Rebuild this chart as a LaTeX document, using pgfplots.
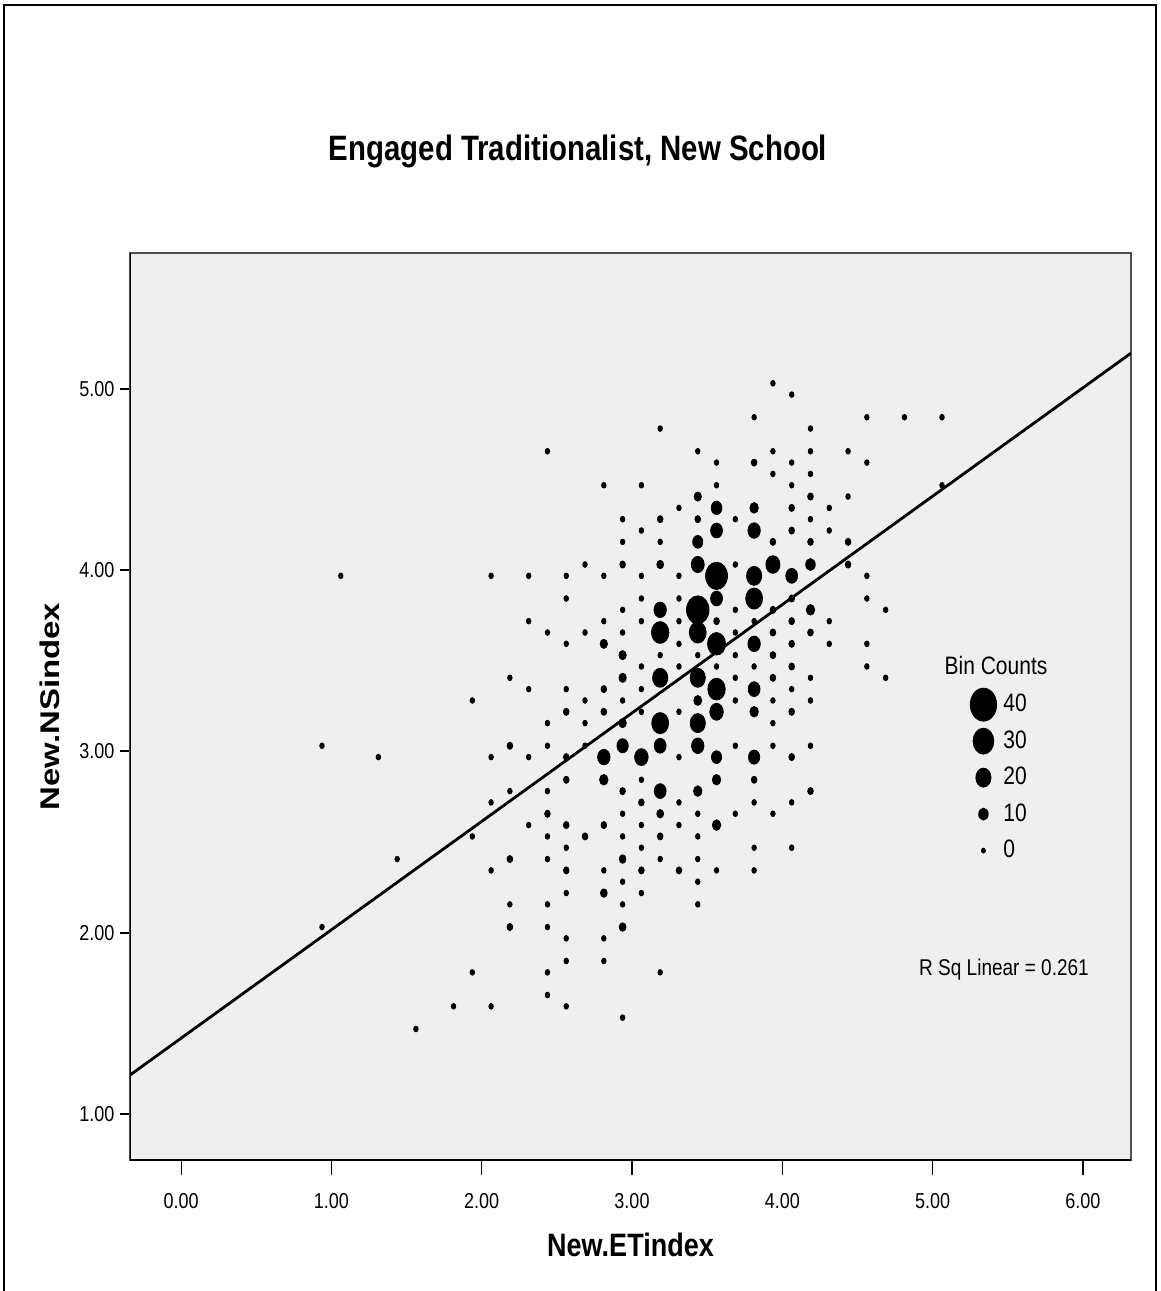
\documentclass[border=0pt]{standalone}
\usepackage{pgfplots}
\usepackage{pgfplotstable}
\pgfplotsset{compat=1.18}
\usepackage{fontspec}
\setmainfont{Liberation Sans}

\definecolor{panel}{RGB}{239,239,239}
\definecolor{boxgray}{RGB}{80,80,80}

% hexagonal bins: centre x, centre y, count
\pgfplotstableread{
x y n
3.9375 5.03125 1
4.0625 4.96875 1
3.8125 4.84375 1
4.5625 4.84375 1
4.8125 4.84375 1
5.0625 4.84375 1
3.1875 4.78125 1
4.1875 4.78125 1
2.4375 4.65625 1
3.4375 4.65625 1
3.9375 4.65625 1
4.1875 4.65625 1
4.4375 4.65625 1
3.5625 4.59375 1
3.8125 4.59375 3
4.0625 4.59375 1
4.5625 4.59375 1
3.9375 4.53125 1
4.1875 4.53125 1
2.8125 4.46875 1
3.0625 4.46875 1
3.5625 4.46875 1
4.0625 4.46875 1
5.0625 4.46875 1
3.4375 4.40625 6
4.1875 4.40625 3
4.4375 4.40625 1
3.3125 4.34375 1
3.5625 4.34375 12
3.8125 4.34375 8
4.0625 4.34375 3
4.3125 4.34375 1
2.9375 4.28125 1
3.1875 4.28125 3
3.4375 4.28125 3
3.6875 4.28125 1
4.1875 4.28125 1
3.0625 4.21875 1
3.5625 4.21875 14
3.8125 4.21875 15
4.0625 4.21875 3
4.3125 4.21875 1
2.9375 4.15625 1
3.1875 4.15625 1
3.4375 4.15625 11
3.9375 4.15625 3
4.1875 4.15625 3
4.4375 4.15625 3
2.6875 4.03125 1
2.9375 4.03125 3
3.1875 4.03125 5
3.4375 4.03125 16
3.6875 4.03125 1
3.9375 4.03125 18
4.1875 4.03125 10
4.4375 4.03125 3
1.0625 3.96875 1
2.0625 3.96875 1
2.3125 3.96875 1
2.5625 3.96875 1
2.8125 3.96875 1
3.0625 3.96875 1
3.3125 3.96875 1
3.5625 3.96875 32
3.8125 3.96875 20
4.0625 3.96875 14
4.5625 3.96875 1
2.5625 3.84375 1
3.0625 3.84375 1
3.3125 3.84375 1
3.5625 3.84375 14
3.8125 3.84375 23
4.0625 3.84375 3
4.5625 3.84375 1
2.9375 3.78125 1
3.1875 3.78125 15
3.4375 3.78125 33
3.6875 3.78125 1
3.9375 3.78125 3
4.1875 3.78125 8
4.6875 3.78125 1
2.3125 3.71875 1
2.8125 3.71875 1
3.0625 3.71875 1
3.3125 3.71875 1
3.5625 3.71875 3
3.8125 3.71875 1
4.0625 3.71875 3
4.3125 3.71875 1
2.4375 3.65625 1
2.6875 3.65625 1
2.9375 3.65625 1
3.1875 3.65625 24
3.4375 3.65625 23
3.6875 3.65625 1
3.9375 3.65625 3
4.1875 3.65625 3
2.5625 3.59375 1
2.8125 3.59375 6
3.3125 3.59375 1
3.5625 3.59375 25
3.8125 3.59375 15
4.0625 3.59375 3
4.3125 3.59375 1
4.5625 3.59375 1
2.9375 3.53125 6
3.1875 3.53125 1
3.4375 3.53125 1
3.6875 3.53125 1
3.9375 3.53125 3
3.0625 3.46875 1
3.3125 3.46875 1
3.5625 3.46875 1
3.8125 3.46875 1
4.0625 3.46875 3
4.5625 3.46875 1
2.1875 3.40625 1
2.9375 3.40625 6
3.1875 3.40625 20
3.4375 3.40625 20
3.6875 3.40625 1
3.9375 3.40625 3
4.1875 3.40625 1
4.6875 3.40625 1
2.3125 3.34375 1
2.5625 3.34375 1
2.8125 3.34375 3
3.0625 3.34375 1
3.5625 3.34375 24
3.8125 3.34375 14
4.0625 3.34375 1
1.9375 3.28125 1
2.6875 3.28125 1
2.9375 3.28125 1
3.4375 3.28125 7
3.6875 3.28125 1
3.9375 3.28125 1
4.1875 3.28125 1
2.5625 3.21875 3
2.8125 3.21875 3
3.0625 3.21875 1
3.3125 3.21875 1
3.5625 3.21875 17
3.8125 3.21875 8
4.0625 3.21875 3
2.4375 3.15625 1
2.6875 3.15625 1
2.9375 3.15625 6
3.1875 3.15625 23
3.4375 3.15625 20
3.9375 3.15625 1
0.9375 3.03125 1
2.1875 3.03125 3
2.4375 3.03125 1
2.6875 3.03125 1
2.9375 3.03125 13
3.1875 3.03125 14
3.4375 3.03125 15
3.6875 3.03125 1
3.9375 3.03125 1
4.1875 3.03125 1
1.3125 2.96875 1
2.0625 2.96875 1
2.3125 2.96875 1
2.5625 2.96875 3
2.8125 2.96875 15
3.0625 2.96875 17
3.3125 2.96875 1
3.5625 2.96875 11
3.8125 2.96875 13
4.0625 2.96875 3
2.5625 2.84375 3
2.8125 2.84375 8
3.0625 2.84375 1
3.5625 2.84375 8
3.8125 2.84375 3
2.1875 2.78125 1
2.4375 2.78125 1
2.9375 2.78125 3
3.1875 2.78125 14
3.4375 2.78125 8
4.1875 2.78125 3
2.0625 2.71875 1
3.0625 2.71875 3
3.3125 2.71875 1
3.8125 2.71875 1
4.0625 2.71875 1
2.4375 2.65625 3
2.9375 2.65625 1
3.1875 2.65625 5
3.4375 2.65625 1
3.6875 2.65625 1
3.9375 2.65625 1
2.3125 2.59375 1
2.5625 2.59375 3
2.8125 2.59375 3
3.0625 2.59375 1
3.3125 2.59375 1
3.5625 2.59375 8
1.9375 2.53125 1
2.4375 2.53125 1
2.6875 2.53125 3
2.9375 2.53125 1
3.1875 2.53125 3
3.4375 2.53125 1
2.5625 2.46875 1
3.0625 2.46875 1
3.8125 2.46875 1
4.0625 2.46875 1
1.4375 2.40625 1
2.1875 2.40625 3
2.4375 2.40625 1
2.9375 2.40625 5
3.1875 2.40625 1
3.4375 2.40625 1
2.0625 2.34375 1
2.5625 2.34375 3
2.8125 2.34375 1
3.0625 2.34375 3
3.3125 2.34375 3
3.5625 2.34375 1
3.8125 2.34375 1
2.9375 2.28125 1
3.4375 2.28125 1
2.5625 2.21875 1
2.8125 2.21875 5
3.0625 2.21875 1
2.1875 2.15625 1
2.4375 2.15625 1
2.9375 2.15625 1
3.4375 2.15625 1
0.9375 2.03125 1
2.1875 2.03125 3
2.4375 2.03125 1
2.9375 2.03125 5
2.5625 1.96875 1
2.8125 1.96875 1
2.5625 1.84375 1
2.8125 1.84375 1
1.9375 1.78125 1
2.4375 1.78125 1
3.1875 1.78125 1
2.4375 1.65625 1
1.8125 1.59375 1
2.0625 1.59375 1
2.5625 1.59375 1
2.9375 1.53125 1
1.5625 1.46875 1
}\bincounts

\begin{document}
\begin{tikzpicture}
\path[use as bounding box] (0,0) rectangle (580.5pt,645.5pt);

\begin{axis}[
  at={(65pt,65.5pt)}, anchor=south west,
  scale only axis, width=500.5pt, height=453.5pt,
  xmin=-0.34, xmax=6.32, ymin=0.746, ymax=5.75,
  axis background/.style={fill=panel},
  axis line style={draw=boxgray, line width=0.7pt},
  xtick={0,1,...,6}, ytick={1,2,...,5},
  xtick pos=bottom, ytick pos=left,
  tick align=outside,
  xtick style={black, line width=0.6pt, /pgfplots/major tick length=7.5pt},
  ytick style={black, line width=1pt, /pgfplots/major tick length=5pt},
  /pgf/number format/assume math mode=true,
  xticklabel={\scalebox{1}[1.2]{\pgfmathprintnumber[fixed,fixed zerofill,precision=2]{\tick}}},
  yticklabel={\scalebox{1}[1.2]{\pgfmathprintnumber[fixed,fixed zerofill,precision=2]{\tick}}},
  ticklabel style={font=\fontsize{9}{10}\selectfont},
  xticklabel style={yshift=-9pt},
  xlabel={\scalebox{1}[1.2]{\bfseries New.ETindex}},
  ylabel={\scalebox{1.22}[1]{\bfseries New.NSindex}},
  label style={font=\fontsize{13.5}{15}\selectfont},
  xlabel style={yshift=-5pt},
  ylabel style={yshift=3pt},
  legend image code/.code={\draw[#1] plot coordinates {(0pt,0pt)};},
  legend cell align=left,
  legend style={draw=none, fill=none, at={(0.839,0.5226)}, anchor=north west,
    inner sep=0pt, column sep=3.4pt, row sep=0pt,
    nodes={inner sep=0pt, minimum height=18.25pt, font=\fontsize{10.5}{12}\selectfont}},
]
\addplot[scatter, only marks, mark=*, forget plot,
  scatter/use mapped color={draw=none, fill=black},
  mark options={yscale=1.25},
  visualization depends on={\thisrow{n} \as \cnt},
  scatter/@pre marker code/.append style={/tikz/mark size={1+0.14*\cnt}},
] table[x=x, y=y] {\bincounts};

% linear fit
\addplot[black, line width=1.4pt, forget plot] coordinates {(-0.34,1.2147) (6.32,5.1974)};

\draw[black, line width=1.3pt] (rel axis cs:0,0) -- (rel axis cs:1,0);
\draw[black, line width=1.1pt] (rel axis cs:0,0) -- (rel axis cs:0,1);

\addlegendimage{only marks, mark=*, mark size=6.6pt, mark options={draw=none, fill=black, yscale=1.25}}
\addlegendentry{\scalebox{1}[1.2]{40}}
\addlegendimage{only marks, mark=*, mark size=5.2pt, mark options={draw=none, fill=black, yscale=1.25}}
\addlegendentry{\scalebox{1}[1.2]{30}}
\addlegendimage{only marks, mark=*, mark size=3.8pt, mark options={draw=none, fill=black, yscale=1.25}}
\addlegendentry{\scalebox{1}[1.2]{20}}
\addlegendimage{only marks, mark=*, mark size=2.4pt, mark options={draw=none, fill=black, yscale=1.25}}
\addlegendentry{\scalebox{1}[1.2]{10}}
\addlegendimage{only marks, mark=*, mark size=1pt, mark options={draw=none, fill=black, yscale=1.25}}
\addlegendentry{\scalebox{1}[1.2]{0}}
\end{axis}

\begin{scope}[x=0.5pt, y=-0.5pt, yshift=645.5pt]
  % outer frame
  \draw[black, line width=1.2pt] (4,1300) -- (4,5) -- (1156,5) -- (1156,1300);
  \node[font=\fontsize{14.7}{17}\selectfont\bfseries] at (578,151)
    {\scalebox{1}[1.2]{Engaged Traditionalist, New School}};
  \node[font=\fontsize{10.5}{12}\selectfont] at (996,666) {\scalebox{1}[1.2]{Bin Counts}};
  \node[font=\fontsize{9.5}{11}\selectfont] at (1004,970) {\scalebox{1}[1.2]{R Sq Linear = 0.261}};
\end{scope}
\end{tikzpicture}
\end{document}
